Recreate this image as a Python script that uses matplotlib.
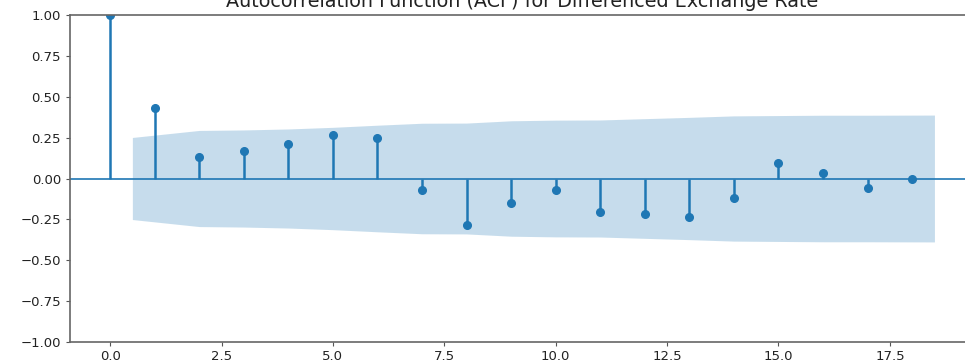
import numpy as np
import matplotlib.pyplot as plt

# ACF of the differenced exchange rate
lags = np.arange(0, 19)
acf_vals = [1.0, 0.43, 0.13, 0.17, 0.21, 0.265, 0.245, -0.07, -0.285, -0.15,
            -0.07, -0.205, -0.22, -0.235, -0.12, 0.095, 0.035, -0.06, -0.003]
# half width of the confidence band for lags 1..18
band = [0.251, 0.294, 0.297, 0.303, 0.313, 0.326, 0.338, 0.339, 0.353, 0.357,
        0.358, 0.366, 0.374, 0.383, 0.385, 0.387, 0.387, 0.388]

fig = plt.figure(figsize=(9.65, 3.61), dpi=100)
ax = fig.add_axes([70 / 965, 19 / 361, 905 / 965, 327 / 361])

ax.vlines(lags, [0], acf_vals, colors="C0", lw=1.8)
ax.axhline(0, color="C0", lw=1.2)
ax.plot(lags, acf_vals, "o", color="C0", markersize=5.5)

band_x = lags[1:].astype(float)
band_x[0] -= 0.5
band_x[-1] += 0.5
band = np.array(band)
ax.fill_between(band_x, -band, band, color="C0", alpha=0.25, lw=0)

ax.set_xlim(-0.9, 19.41)
ax.set_ylim(-1.0, 1.0)
ax.set_xticks([0, 2.5, 5, 7.5, 10, 12.5, 15, 17.5])
ax.set_yticks([-1, -0.75, -0.5, -0.25, 0, 0.25, 0.5, 0.75, 1.0])
ax.tick_params(axis="both", labelsize=9.5, length=3, color="#555555", labelcolor="#222222")
ax.tick_params(axis="x", pad=2.5)
ax.spines["right"].set_visible(False)
for side in ["left", "bottom", "top"]:
    ax.spines[side].set_color("#666666")
    ax.spines[side].set_linewidth(1.2)
# the title sits partly above the top edge, as in the reference crop
ax.set_title("Autocorrelation Function (ACF) for Differenced Exchange Rate",
             fontsize=13.8, color="#222222")

fig.savefig("out.png", dpi=100)
